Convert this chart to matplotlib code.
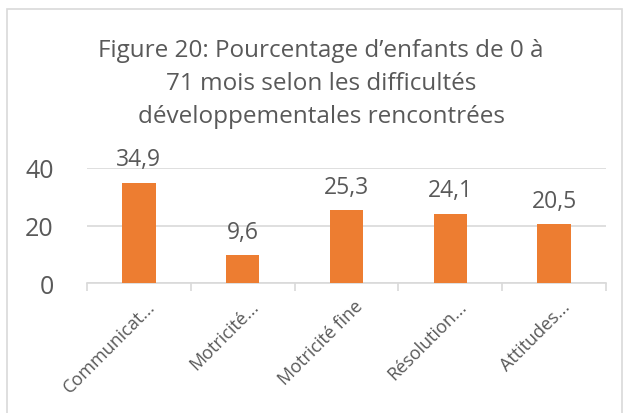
import matplotlib.pyplot as plt
from matplotlib.patches import Rectangle
from matplotlib.transforms import ScaledTranslation

categories = ["Communicat...", "Motricité...", "Motricité fine", "Résolution...", "Attitudes..."]
values = [34.9, 9.6, 25.3, 24.1, 20.5]
title_lines = ["Figure 20: Pourcentage d\u2019enfants de 0 à",
               "71 mois selon les difficultés",
               "développementales rencontrées"]

TXT = "#595959"
GRID = "#d9d9d9"
ORANGE = "#ed7d31"

plt.rcParams['font.family'] = ['Open Sans', 'DejaVu Sans']

W, H = 631, 414
fig = plt.figure(figsize=(W / 100, H / 100), dpi=100)
fig.patches.append(Rectangle((7 / W, -0.01), 615 / W, 1 - 10 / H + 0.01,
                             transform=fig.transFigure, fill=False,
                             edgecolor=GRID, linewidth=1.2))

ax = fig.add_axes([87 / W, 1 - 284 / H, 519 / W, 115 / H])
x = range(len(categories))
ax.bar(x, values, width=0.32, color=ORANGE, zorder=3)
for xi, v in zip(x, values):
    ax.annotate(f"{v:.1f}".replace(".", ","), (xi, v), xytext=(0, 12.5),
                textcoords="offset points", ha="center", va="baseline",
                fontsize=16.5, color=TXT)

ax.set_xlim(-0.5, len(categories) - 0.5)
ax.set_ylim(0, 40)
ax.set_yticks([0, 20, 40])
ax.yaxis.grid(True, color=GRID, linewidth=1.2, zorder=0)
for s in ["top", "right", "left"]:
    ax.spines[s].set_visible(False)
ax.spines["bottom"].set_color(GRID)
ax.spines["bottom"].set_linewidth(1.2)
ax.tick_params(axis="y", length=0, labelsize=18, labelcolor=TXT, pad=24)

ax.set_xticks(x)
ax.set_xticklabels(categories, rotation=45, ha="right", rotation_mode="anchor",
                   fontsize=13, color=TXT)
ax.tick_params(axis="x", length=0, pad=10)
shift = ScaledTranslation(5 / 72, 0, fig.dpi_scale_trans)
for lab in ax.get_xticklabels():
    lab.set_transform(lab.get_transform() + shift)
ax.set_xticks([i - 0.5 for i in range(len(categories) + 1)], minor=True)
ax.tick_params(axis="x", which="minor", length=6, width=1.2, color=GRID, direction="out")

for i, line in enumerate(title_lines):
    fig.text(321 / W, 1 - (57 + 33 * i) / H, line, ha="center", va="baseline",
             fontsize=17.5, color=TXT)

fig.savefig("out.png", dpi=100)
